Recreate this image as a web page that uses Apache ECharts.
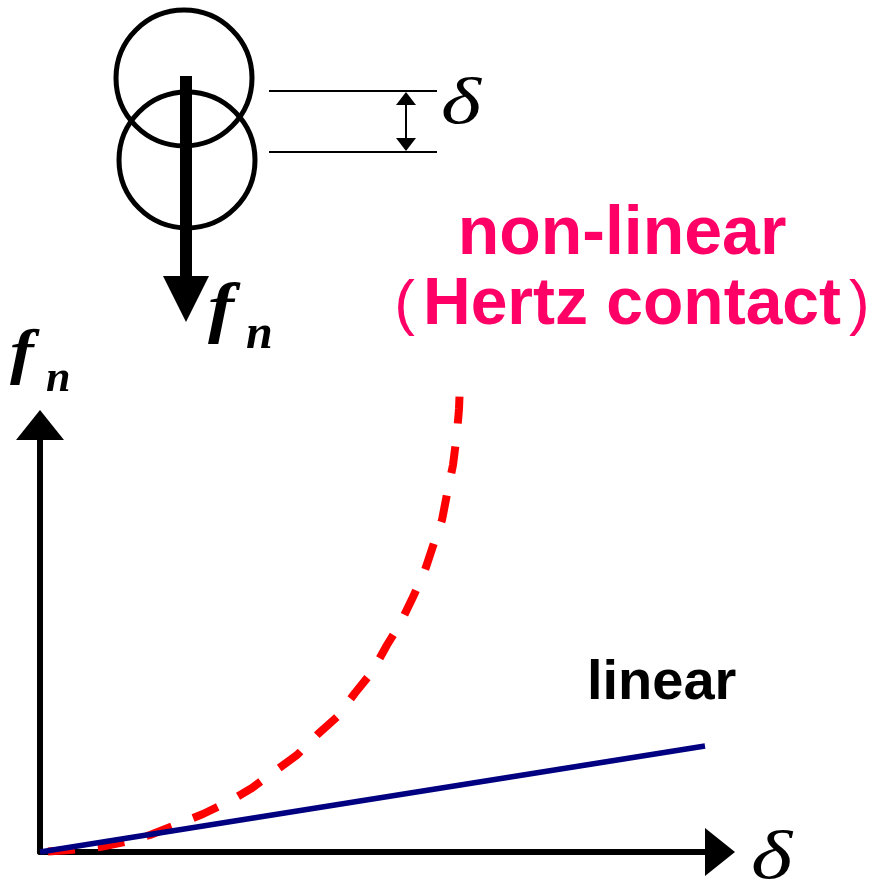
<!DOCTYPE html>
<html>
<head>
<meta charset="utf-8">
<script src="https://cdn.jsdelivr.net/npm/echarts@6/dist/echarts.min.js"></script>
<style>
  html, body { margin: 0; padding: 0; background: #fff; }
  #chart { width: 878px; height: 890px; }
</style>
</head>
<body>
<div id="chart"></div>
<script>
// displacement (delta) vs normal force (arbitrary units)
const linearDelta = [0, 665];
const linearForce = [0, 106];

const hertzDelta = [0, 30, 60, 85, 110, 138, 163, 190, 212, 235, 257, 278, 297,
                    315, 332, 347, 360, 373, 384, 394, 402, 408, 413, 417, 419, 420];
const hertzForce = [0, 2, 5, 10, 17, 28, 38, 51, 64, 81, 97, 118, 135,
                    159, 180, 207, 228, 255, 279, 309, 332, 363, 387, 419, 443, 469];

const labelLinear = 'linear';
const labelHertz = 'non-linear';
const labelHertz2 = 'Hertz contact';

let pairs = (xs, ys) => xs.map((x, i) => [x, ys[i]]);

let chart = echarts.init(document.getElementById('chart'));

let serif = 'Liberation Serif';
let sans = 'Liberation Sans';

let options = {
    backgroundColor: '#ffffff',
    animation: false,
    grid: { left: 40, right: 158, top: 425, bottom: 38 },
    xAxis: {
        type: 'value',
        min: 0,
        max: 680,
        axisLine: {
            lineStyle: { color: '#000', width: 6 },
            symbol: ['none', 'triangle'],
            symbolSize: [48, 30]
        },
        axisTick: { show: false },
        axisLabel: { show: false },
        splitLine: { show: false }
    },
    yAxis: {
        type: 'value',
        min: 0,
        max: 427,
        axisLine: {
            show: true,
            lineStyle: { color: '#000', width: 6 },
            symbol: ['none', 'triangle'],
            symbolSize: [48, 30]
        },
        axisTick: { show: false },
        axisLabel: { show: false },
        splitLine: { show: false }
    },
    series: [
        {
            type: 'line',
            data: pairs(hertzDelta, hertzForce),
            showSymbol: false,
            clip: false,
            lineStyle: { color: '#ff0000', width: 8, type: [27, 23], dashOffset: 42 },
            z: 3
        },
        {
            type: 'line',
            data: pairs(linearDelta, linearForce),
            showSymbol: false,
            clip: false,
            lineStyle: { color: '#000080', width: 5.5 },
            z: 4
        }
    ],
    graphic: [
        // two overlapping particles
        { type: 'circle', shape: { cx: 184, cy: 78, r: 68 }, style: { fill: 'none', stroke: '#000', lineWidth: 5 } },
        { type: 'circle', shape: { cx: 187, cy: 160, r: 68 }, style: { fill: 'none', stroke: '#000', lineWidth: 5 } },
        // force arrow
        { type: 'rect', shape: { x: 180, y: 76, width: 12, height: 202 }, style: { fill: '#000' } },
        { type: 'polygon', shape: { points: [[163, 276], [209, 276], [186, 322]] }, style: { fill: '#000' } },
        // overlap dimension
        { type: 'line', shape: { x1: 269, y1: 91, x2: 437, y2: 91 }, style: { stroke: '#000', lineWidth: 2 } },
        { type: 'line', shape: { x1: 269, y1: 152, x2: 437, y2: 152 }, style: { stroke: '#000', lineWidth: 2 } },
        { type: 'line', shape: { x1: 406, y1: 100, x2: 406, y2: 143 }, style: { stroke: '#000', lineWidth: 2 } },
        { type: 'polygon', shape: { points: [[396, 105], [416, 105], [406, 92]] }, style: { fill: '#000' } },
        { type: 'polygon', shape: { points: [[396, 138], [416, 138], [406, 151]] }, style: { fill: '#000' } },
        { type: 'text', x: 441, y: 73, scaleX: 1.3, style: { text: '\u03b4', font: 'italic 66px "' + serif + '"', fill: '#000' } },
        { type: 'text', x: 208, y: 278, scaleX: 1.15, style: { text: 'f', font: 'italic bold 68px "' + serif + '"', fill: '#000' } },
        { type: 'text', x: 246, y: 312, style: { text: 'n', font: 'italic bold 48px "' + serif + '"', fill: '#000' } },

        // labels
        { type: 'text', x: 622, y: 235, style: { text: labelHertz, font: 'bold 68px "' + sans + '"', fill: '#ff0066', align: 'center', verticalAlign: 'middle' } },
        {
            type: 'text', x: 632, y: 306,
            style: {
                text: '{p|(}{t|' + labelHertz2 + '}{p|)}',
                align: 'center', verticalAlign: 'middle',
                rich: {
                    p: { font: '62px "' + sans + '"', fill: '#ff0066', padding: [0, 8, 0, 8] },
                    t: { font: 'bold 66px "' + sans + '"', fill: '#ff0066' }
                }
            }
        },
        { type: 'text', x: 587, y: 684, style: { text: labelLinear, font: 'bold 56px "' + sans + '"', fill: '#000', align: 'left', verticalAlign: 'middle' } },
        { type: 'text', x: 751, y: 826, scaleX: 1.3, style: { text: '\u03b4', font: 'italic 68px "' + serif + '"', fill: '#000' } },
        { type: 'text', x: 10, y: 325, scaleX: 1.15, style: { text: 'f', font: 'italic bold 62px "' + serif + '"', fill: '#000' } },
        { type: 'text', x: 46, y: 358, style: { text: 'n', font: 'italic bold 44px "' + serif + '"', fill: '#000' } }
    ]
};

chart.setOption(options);
</script>
</body>
</html>
